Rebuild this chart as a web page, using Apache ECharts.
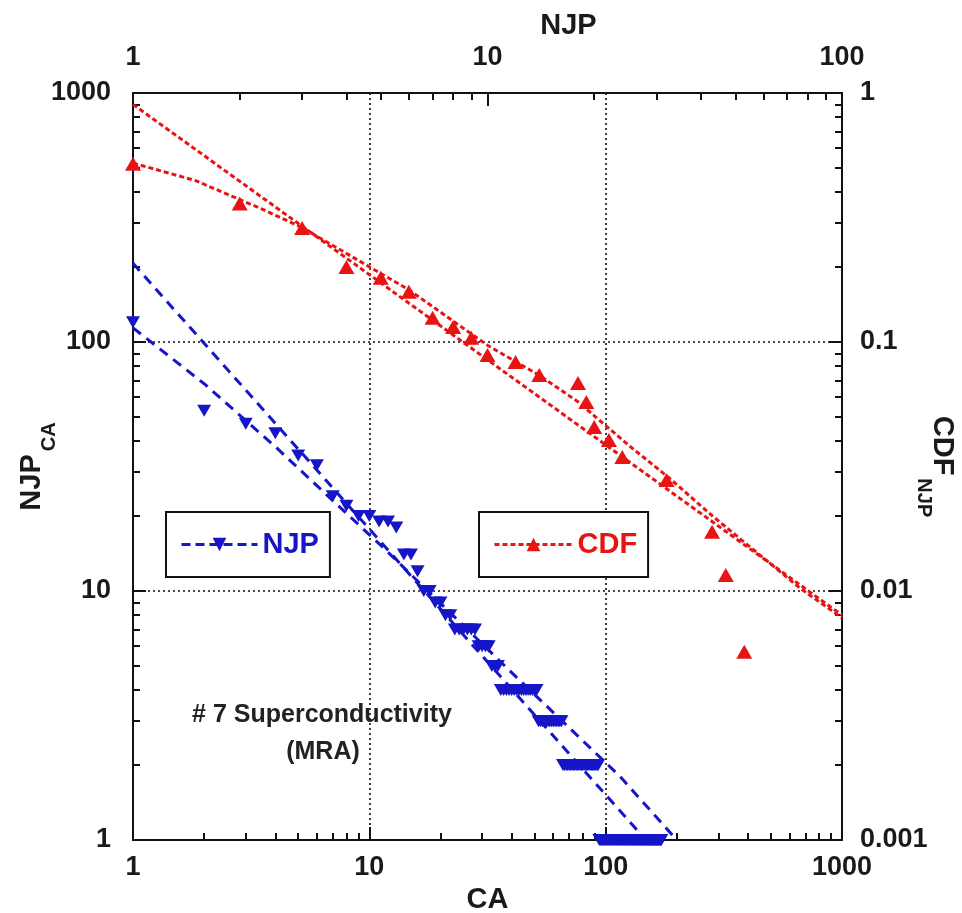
<!DOCTYPE html>
<html><head><meta charset="utf-8">
<script src="https://cdn.jsdelivr.net/npm/echarts@6/dist/echarts.min.js"></script>
<style>html,body{margin:0;padding:0;background:#fff}#c{width:962px;height:913px}</style>
</head><body><div id="c"></div>
<script>
// ---- data ----
// NJP per CA, in rank order (CA = rank 1, 2, 3, ...)
const njpValues = [
  120, 53, 47, 43, 35, 32, 24, 22, 20, 20, 19, 19, 18, 14, 14, 12, 10, 10, 9, 9, 8, 8,
  7, 7, 7, 7, 7, 7,
  6, 6, 6, 6,
  5, 5, 5,
  4, 4, 4, 4, 4, 4, 4, 4, 4, 4, 4, 4, 4, 4, 4, 4,
  3, 3, 3, 3, 3, 3, 3, 3, 3, 3, 3, 3, 3, 3,
  2, 2, 2, 2, 2, 2, 2, 2, 2, 2, 2, 2, 2, 2, 2, 2, 2, 2, 2, 2, 2, 2, 2, 2, 2, 2, 2, 2,
  1, 1, 1, 1, 1, 1, 1, 1, 1, 1,
  1, 1, 1, 1, 1, 1, 1, 1, 1, 1,
  1, 1, 1, 1, 1, 1, 1, 1, 1, 1,
  1, 1, 1, 1, 1, 1, 1, 1, 1, 1,
  1, 1, 1, 1, 1, 1, 1, 1, 1, 1,
  1, 1, 1, 1, 1, 1, 1, 1, 1, 1,
  1, 1, 1, 1, 1, 1, 1, 1, 1, 1,
  1, 1, 1, 1, 1, 1, 1, 1, 1
];
// fitted lines for NJP_CA vs CA
const njpFitStraightCA = [1, 148];
const njpFitStraightVal = [207, 1];
const njpFitCurveCA = [1, 2, 4, 8, 11.4, 42, 115, 200];
const njpFitCurveVal = [114, 68, 38, 20.5, 15, 4.5, 1.8, 1];

// CDF of NJP
const cdfNJP = [1, 2, 3, 4, 5, 6, 7, 8, 9, 10, 12, 14, 18, 19, 20, 22, 24, 32, 43, 47, 53];
const cdfVal = [0.52, 0.36, 0.287, 0.20, 0.181, 0.159, 0.125, 0.115, 0.104, 0.0887, 0.0831,
  0.0737, 0.0685, 0.0574, 0.0456, 0.0404, 0.0345, 0.0279, 0.0173, 0.0116, 0.0057];
const cdfFitStraightNJP = [1, 100];
const cdfFitStraightVal = [0.9, 0.008];
const cdfFitCurveNJP = [1, 1.5, 2.33, 3, 6, 10, 14, 18, 25, 32.2, 43.5, 76.6, 100];
const cdfFitCurveVal = [0.523, 0.445, 0.34, 0.288, 0.162, 0.097, 0.0735, 0.0575, 0.0385, 0.0288, 0.0198, 0.0102, 0.0078];

// tick values
const caMinorTicks = [2,3,4,5,6,7,8,9,20,30,40,50,60,70,80,90,200,300,400,500,600,700,800,900];
const njpTopMinorTicks = [2,3,4,5,6,7,8,9,20,30,40,50,60,70,80,90];
const leftMinorTicks = [2,3,4,5,6,7,8,9,20,30,40,50,60,70,80,90,200,300,400,500,600,700,800,900];
const rightMinorTicks = [0.002,0.003,0.004,0.005,0.006,0.007,0.008,0.009,0.02,0.03,0.04,0.05,0.06,0.07,0.08,0.09,0.2,0.3,0.4,0.5,0.6,0.7,0.8,0.9];

// ---- styling ----
const FONT = 'Liberation Sans, Arial, sans-serif';
const TXT = '#1a1a1a';
const AX = '#111';
const BLUE = '#1616c8';
const RED = '#e81414';

const zip = (a, b) => a.map((v, i) => [v, b[i]]);
const njpPoints = njpValues.map((v, i) => [i + 1, v]);
const plainNum = v => String(+v.toPrecision(6));

function labelStyle(margin) {
  return { fontSize: 27, fontWeight: 'bold', fontFamily: FONT, color: TXT, margin: margin, formatter: plainNum };
}
function mainAxis(extra) {
  return Object.assign({
    type: 'log', logBase: 10,
    nameMoveOverlap: false,
    axisLine: { show: true, onZero: false, lineStyle: { color: AX, width: 2 } },
    axisTick: { show: true, inside: true, length: 13, lineStyle: { color: AX, width: 2 } },
    splitLine: { show: false },
    nameTextStyle: { fontSize: 29, fontWeight: 'bold', fontFamily: FONT, color: TXT }
  }, extra);
}
function minorAxis(extra, ticks) {
  return Object.assign({
    type: 'log', logBase: 10,
    axisLine: { show: false },
    axisLabel: { show: false },
    splitLine: { show: false },
    axisTick: { show: true, inside: true, length: 7, customValues: ticks, lineStyle: { color: AX, width: 2 } }
  }, extra);
}
const gridLine = { show: true, lineStyle: { color: AX, width: 1.6, type: [2, 3] } };
const richName = {
  m: { fontSize: 29, fontWeight: 'bold', fontFamily: FONT, color: TXT, lineHeight: 30, verticalAlign: 'top' },
  s: { fontSize: 20, fontWeight: 'bold', fontFamily: FONT, color: TXT, lineHeight: 20, verticalAlign: 'top', padding: [22, 0, 0, 3] }
};

const option = {
  animation: false,
  backgroundColor: '#fff',
  grid: { left: 133, right: 120, top: 93, bottom: 73, outerBoundsMode: 'none', containLabel: false },
  xAxis: [
    mainAxis({ position: 'bottom', min: 1, max: 1000, name: 'CA', nameLocation: 'middle', nameGap: 45,
      axisLabel: labelStyle(14), splitLine: gridLine }),
    mainAxis({ position: 'top', min: 1, max: 100, name: 'NJP', nameLocation: 'middle', nameGap: 53,
      axisLabel: labelStyle(22),
      nameTextStyle: { fontSize: 29, fontWeight: 'bold', fontFamily: FONT, color: TXT, padding: [0, 0, 0, 162] } }),
    minorAxis({ position: 'bottom', min: 1, max: 1000 }, caMinorTicks),
    minorAxis({ position: 'top', min: 1, max: 100 }, njpTopMinorTicks)
  ],
  yAxis: [
    mainAxis({ position: 'left', min: 1, max: 1000, name: '{m|NJP}{s|CA}', nameLocation: 'middle', nameGap: 86,
      axisLabel: labelStyle(22), nameTextStyle: { rich: richName }, splitLine: gridLine }),
    mainAxis({ position: 'right', min: 0.001, max: 1, name: '{m|CDF}{s|NJP}', nameLocation: 'middle', nameGap: 84, nameRotate: -90,
      axisLabel: labelStyle(18), nameTextStyle: { rich: richName } }),
    minorAxis({ position: 'left', min: 1, max: 1000 }, leftMinorTicks),
    minorAxis({ position: 'right', min: 0.001, max: 1 }, rightMinorTicks)
  ],
  legend: [
    { data: ['NJP'], left: 166, top: 512, itemWidth: 76, itemHeight: 17, padding: [18, 11, 18, 14],
      borderColor: AX, borderWidth: 2, backgroundColor: '#fff', selectedMode: false,
      textStyle: { color: BLUE, fontSize: 29, fontWeight: 'bold', fontFamily: FONT },
      lineStyle: { opacity: 1, width: 3, type: [9, 5], color: BLUE }, itemStyle: { color: BLUE } },
    { data: ['CDF'], left: 479, top: 512, itemWidth: 78, itemHeight: 17, padding: [18, 11, 18, 14],
      borderColor: AX, borderWidth: 2, backgroundColor: '#fff', selectedMode: false,
      textStyle: { color: RED, fontSize: 29, fontWeight: 'bold', fontFamily: FONT },
      lineStyle: { opacity: 1, width: 3, type: [5, 3], color: RED }, itemStyle: { color: RED } }
  ],
  graphic: [
    { type: 'text', x: 322, y: 715, style: { text: '# 7 Superconductivity', fontSize: 25, fontWeight: 'bold', fontFamily: FONT, fill: '#222', align: 'center', verticalAlign: 'middle' } },
    { type: 'text', x: 323, y: 752, style: { text: '(MRA)', fontSize: 25, fontWeight: 'bold', fontFamily: FONT, fill: '#222', align: 'center', verticalAlign: 'middle' } }
  ],
  series: [
    { name: 'NJP fit (power law)', type: 'line', xAxisIndex: 0, yAxisIndex: 0, data: zip(njpFitStraightCA, njpFitStraightVal),
      showSymbol: false, lineStyle: { color: BLUE, width: 3, type: [10, 7] }, z: 2 },
    { name: 'NJP fit (curve)', type: 'line', xAxisIndex: 0, yAxisIndex: 0, data: zip(njpFitCurveCA, njpFitCurveVal),
      showSymbol: false, lineStyle: { color: BLUE, width: 3, type: [10, 7] }, z: 2 },
    { name: 'CDF fit (power law)', type: 'line', xAxisIndex: 1, yAxisIndex: 1, data: zip(cdfFitStraightNJP, cdfFitStraightVal),
      showSymbol: false, lineStyle: { color: RED, width: 3, type: [5, 3] }, z: 2 },
    { name: 'CDF fit (curve)', type: 'line', xAxisIndex: 1, yAxisIndex: 1, data: zip(cdfFitCurveNJP, cdfFitCurveVal),
      showSymbol: false, lineStyle: { color: RED, width: 3, type: [5, 3] }, z: 2 },
    { name: 'NJP', type: 'line', xAxisIndex: 0, yAxisIndex: 0, data: njpPoints,
      symbol: 'triangle', symbolRotate: 180, symbolSize: [14, 12], showAllSymbol: true,
      itemStyle: { color: BLUE }, lineStyle: { opacity: 0, width: 3, color: BLUE, type: [9, 5] }, z: 3 },
    { name: 'CDF', type: 'line', xAxisIndex: 1, yAxisIndex: 1, data: zip(cdfNJP, cdfVal),
      symbol: 'triangle', symbolSize: [16, 14], showAllSymbol: true,
      itemStyle: { color: RED }, lineStyle: { opacity: 0, width: 3, color: RED, type: [5, 3] }, z: 3 }
  ]
};
const chart = echarts.init(document.getElementById('c'), null, { renderer: 'canvas' });
chart.setOption(option);
</script>
</body></html>
